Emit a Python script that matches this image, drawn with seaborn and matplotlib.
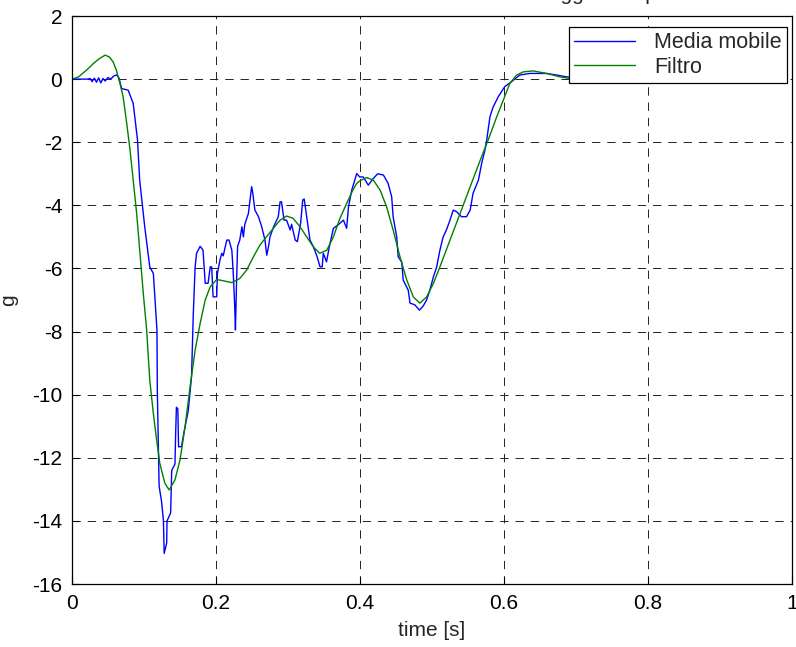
import numpy as np
import pandas as pd
import matplotlib
matplotlib.use("Agg")
import matplotlib.pyplot as plt
import seaborn as sns

# Moving-average signal (time [s], acceleration [g])
t_media = [0.000, 0.022, 0.025, 0.028, 0.031, 0.034, 0.037, 0.040, 0.043, 0.046,
           0.050, 0.054, 0.058, 0.062, 0.065, 0.069, 0.078, 0.085, 0.091, 0.094,
           0.101, 0.108, 0.113, 0.118, 0.1185, 0.121, 0.1245, 0.127, 0.128, 0.1315,
           0.132, 0.137, 0.1385, 0.143, 0.144, 0.145, 0.147, 0.148, 0.152, 0.1555,
           0.1615, 0.166, 0.1685, 0.171, 0.173, 0.178, 0.182, 0.185, 0.189, 0.192,
           0.194, 0.196, 0.201, 0.202, 0.2055, 0.208, 0.210, 0.215, 0.218, 0.222,
           0.224, 0.226, 0.227, 0.2285, 0.230, 0.233, 0.236, 0.238, 0.240, 0.245,
           0.2495, 0.251, 0.254, 0.259, 0.2635, 0.268, 0.2705, 0.273, 0.275, 0.280,
           0.2865, 0.289, 0.291, 0.2945, 0.298, 0.303, 0.305, 0.310, 0.313, 0.3175,
           0.3205, 0.3225, 0.326, 0.3305, 0.335, 0.3405, 0.3445, 0.3475, 0.349, 0.3535,
           0.3575, 0.363, 0.3705, 0.377, 0.3815, 0.384, 0.3885, 0.3955, 0.3995, 0.4045,
           0.4115, 0.4185, 0.4245, 0.4325, 0.439, 0.444, 0.446, 0.451, 0.453, 0.458,
           0.460, 0.467, 0.4695, 0.476, 0.4825, 0.4875, 0.4925, 0.497, 0.502, 0.5065,
           0.511, 0.5155, 0.520, 0.525, 0.5295, 0.534, 0.541, 0.548, 0.553, 0.557,
           0.5645, 0.569, 0.5735, 0.576, 0.5805, 0.585, 0.592, 0.601, 0.6105, 0.622,
           0.636, 0.659, 0.673, 0.687, 0.700]
g_media = [0.00, 0.00, 0.02, -0.08, 0.03, -0.10, 0.04, -0.12, 0.02, -0.06,
           0.05, 0.00, 0.10, 0.13, 0.05, -0.30, -0.35, -0.77, -1.93, -3.20,
           -4.68, -5.95, -6.16, -7.95, -9.85, -12.90, -13.40, -14.00, -15.03, -14.70,
           -14.00, -13.75, -12.40, -12.20, -11.20, -10.40, -10.45, -11.65, -11.65, -11.20,
           -10.50, -9.43, -7.42, -5.95, -5.52, -5.30, -5.42, -6.47, -6.47, -5.95,
           -5.95, -6.90, -6.90, -6.16, -5.73, -5.52, -5.60, -5.10, -5.10, -5.42,
           -6.16, -7.20, -7.95, -6.47, -5.30, -5.10, -4.68, -5.00, -4.60, -4.26,
           -3.41, -3.60, -4.15, -4.36, -4.68, -5.10, -5.58, -5.30, -5.00, -4.68,
           -4.36, -3.89, -3.89, -4.47, -4.47, -4.78, -4.60, -5.10, -5.15, -4.57,
           -3.83, -3.80, -4.36, -5.10, -5.30, -5.63, -5.95, -5.95, -5.52, -5.79,
           -5.30, -4.73, -4.60, -4.47, -4.73, -4.05, -3.52, -2.99, -3.10, -3.10,
           -3.36, -3.15, -3.00, -3.04, -3.30, -3.73, -4.36, -5.00, -5.63, -5.80,
           -6.37, -6.69, -7.10, -7.15, -7.32, -7.20, -7.00, -6.69, -6.26, -5.95,
           -5.42, -5.00, -4.78, -4.47, -4.15, -4.20, -4.36, -4.36, -4.15, -3.62,
           -3.20, -2.67, -2.25, -1.93, -1.19, -0.88, -0.56, -0.24, -0.08, 0.13,
           0.18, 0.18, 0.13, 0.07, 0.05]

# Filtered signal
t_filtro = [0.000, 0.009, 0.020, 0.030, 0.038, 0.046, 0.052, 0.057, 0.0615, 0.0667,
            0.071, 0.076, 0.0806, 0.085, 0.0898, 0.0944, 0.099, 0.1037, 0.108, 0.113,
            0.1176, 0.122, 0.129, 0.135, 0.143, 0.150, 0.157, 0.164, 0.171, 0.178,
            0.185, 0.192, 0.201, 0.210, 0.222, 0.233, 0.2426, 0.252, 0.261, 0.270,
            0.2796, 0.289, 0.298, 0.307, 0.3167, 0.326, 0.335, 0.344, 0.354, 0.363,
            0.372, 0.3815, 0.390, 0.3955, 0.400, 0.409, 0.4185, 0.428, 0.437, 0.446,
            0.4555, 0.465, 0.474, 0.483, 0.4926, 0.502, 0.511, 0.525, 0.539, 0.553,
            0.567, 0.578, 0.590, 0.599, 0.608, 0.6176, 0.627, 0.6407, 0.659, 0.678,
            0.689, 0.700]
g_filtro = [0.00, 0.07, 0.28, 0.50, 0.65, 0.76, 0.70, 0.55, 0.29, -0.14,
            -0.56, -1.40, -2.25, -3.20, -4.26, -5.52, -6.79, -7.95, -9.54, -10.60,
            -11.44, -12.18, -12.81, -13.02, -12.70, -12.07, -11.02, -9.75, -8.59, -7.74,
            -7.00, -6.58, -6.35, -6.39, -6.45, -6.32, -6.05, -5.63, -5.26, -5.00,
            -4.73, -4.47, -4.34, -4.41, -4.68, -5.00, -5.31, -5.52, -5.42, -5.00,
            -4.42, -3.94, -3.52, -3.30, -3.22, -3.12, -3.20, -3.52, -4.05, -4.78,
            -5.63, -6.37, -6.90, -7.10, -6.90, -6.47, -5.95, -5.10, -4.26, -3.41,
            -2.57, -1.93, -1.19, -0.67, -0.14, 0.13, 0.23, 0.26, 0.18, 0.07,
            0.03, 0.02]

serie = ["Media mobile", "Filtro"]
x_ticks = [0, 0.2, 0.4, 0.6, 0.8, 1]
x_labels = ["0", "0.2", "0.4", "0.6", "0.8", "1"]
y_ticks = list(range(-16, 3, 2))

df = pd.concat([
    pd.DataFrame({"time": t_media, "g": g_media, "serie": serie[0]}),
    pd.DataFrame({"time": t_filtro, "g": g_filtro, "serie": serie[1]}),
], ignore_index=True)

sns.set_style("ticks")
plt.rcParams["font.family"] = ["Liberation Sans", "DejaVu Sans"]
plt.rcParams["lines.scale_dashes"] = False
plt.rcParams["axes.unicode_minus"] = False

FS = 15

fig = plt.figure(figsize=(7.96, 6.47), dpi=100)
ax = fig.add_axes([72 / 796, 1 - 584 / 647, 720 / 796, 568 / 647])

sns.lineplot(data=df, x="time", y="g", hue="serie", hue_order=serie,
             palette={"Media mobile": "#0000ff", "Filtro": "#008000"},
             estimator=None, sort=True, linewidth=1.0, ax=ax)

ax.set_xlim(0, 1)
ax.set_ylim(-16, 2)
ax.set_xticks(x_ticks)
ax.set_xticklabels(x_labels)
ax.set_yticks(y_ticks)
ax.tick_params(direction="in", length=5, width=0.8, labelsize=FS, colors="black",
               top=False, right=False, pad=7)
for s in ax.spines.values():
    s.set_visible(True)
    s.set_color("black")
    s.set_linewidth(0.9)

ax.grid(True, color="#222222", linestyle=(0, (6, 5)), linewidth=0.7)
ax.set_axisbelow(True)

ax.set_xlabel("time [s]", fontsize=FS, labelpad=6)
ax.set_ylabel("g", fontsize=FS, labelpad=10)

fig.text(483 / 796, 1 + 0.5 / 647, "Confronto tra media mobile e filtraggio componente",
         ha="center", va="baseline", fontsize=FS)

leg = ax.legend(loc="upper right", bbox_to_anchor=((787 - 72) / 720, 1 - (27 - 16) / 568),
                borderaxespad=0, fancybox=False, frameon=True, edgecolor="black",
                framealpha=1, fontsize=15.5, handlelength=2.8, labelspacing=0.15,
                borderpad=0.25, handletextpad=0.9, title=None)
leg.get_frame().set_linewidth(0.9)

fig.savefig("out.png", dpi=100)
